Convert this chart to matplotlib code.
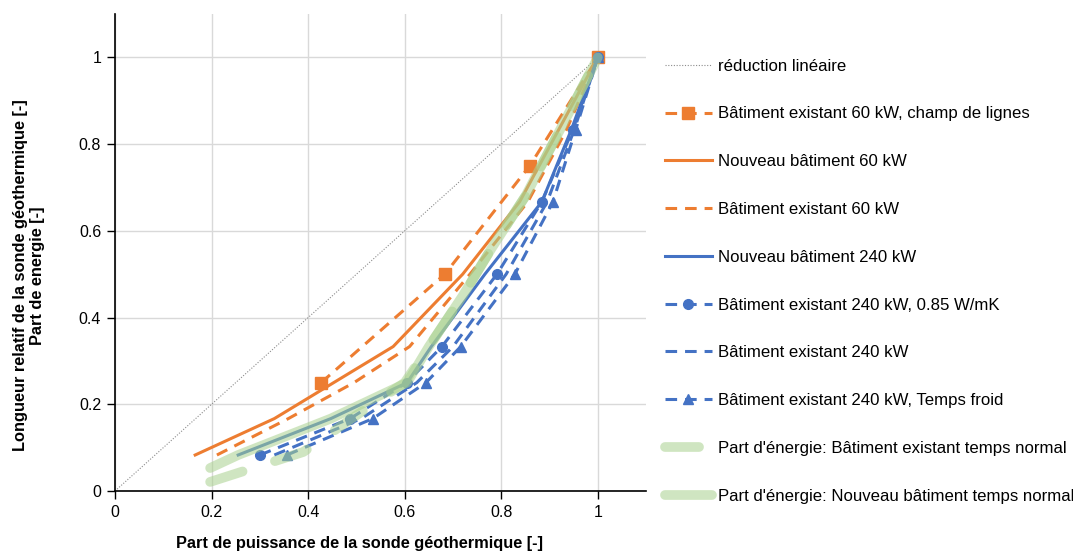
import numpy as np
import matplotlib
matplotlib.use("Agg")
import matplotlib.pyplot as plt

plt.rcParams['font.family'] = ['Liberation Sans', 'DejaVu Sans']

# reduction lineaire
lin_x = [0, 1]
lin_y = [0, 1]

# Batiment existant 60 kW, champ de lignes
champ_x = [0.427, 0.683, 0.859, 1.0]
champ_y = [0.25, 0.5, 0.75, 1.0]

# Nouveau batiment 60 kW
nb60_x = [0.166, 0.33, 0.576, 0.72, 0.838, 1.0]
nb60_y = [0.083, 0.167, 0.333, 0.5, 0.667, 1.0]

# Batiment existant 60 kW
be60_x = [0.211, 0.359, 0.495, 0.61, 0.735, 0.855, 0.935, 1.0]
be60_y = [0.083, 0.167, 0.25, 0.333, 0.5, 0.667, 0.833, 1.0]

# Nouveau batiment 240 kW
nb240_x = [0.255, 0.447, 0.605, 0.655, 0.766, 0.884, 0.945, 1.0]
nb240_y = [0.083, 0.167, 0.25, 0.333, 0.5, 0.667, 0.833, 1.0]

# Batiment existant 240 kW, 0.85 W/mK
be240k_x = [0.30, 0.487, 0.604, 0.677, 0.791, 0.884, 0.948, 1.0]
be240k_y = [0.083, 0.167, 0.25, 0.333, 0.5, 0.667, 0.833, 1.0]

# Batiment existant 240 kW
be240_x = [0.33, 0.51, 0.625, 0.70, 0.81, 0.895, 0.951, 1.0]
be240_y = [0.083, 0.167, 0.25, 0.333, 0.5, 0.667, 0.833, 1.0]

# Batiment existant 240 kW, Temps froid
froid_x = [0.356, 0.534, 0.644, 0.716, 0.828, 0.907, 0.954, 1.0]
froid_y = [0.083, 0.167, 0.25, 0.333, 0.5, 0.667, 0.833, 1.0]

# Part d'energie: Batiment existant temps normal
pe_ex_x = [0.197, 0.39, 0.49, 0.60, 0.65, 0.72, 0.78, 0.85, 1.0]
pe_ex_y = [0.021, 0.09, 0.167, 0.25, 0.333, 0.45, 0.56, 0.68, 1.0]

# Part d'energie: Nouveau batiment temps normal
pe_nb_x = [0.197, 0.255, 0.447, 0.605, 0.65, 0.72, 0.78, 0.85, 1.0]
pe_nb_y = [0.053, 0.083, 0.167, 0.25, 0.333, 0.45, 0.56, 0.68, 1.0]

orange = "#ED7D31"
blue = "#4472C4"
green = "#A9D18E"
dash = (0, (3.8, 2.6))

fig = plt.figure(figsize=(10.73, 5.51), dpi=100)
ax = fig.add_axes([0.1072, 0.1089, 0.4950, 0.8657])

ax.plot(lin_x, lin_y, color="#8c8c8c", lw=0.8, ls=(0, (1, 1.5)), label="réduction linéaire")
ax.plot(champ_x, champ_y, color=orange, lw=2.2, ls=dash, marker="s", ms=8,
        label="Bâtiment existant 60 kW, champ de lignes")
ax.plot(nb60_x, nb60_y, color=orange, lw=2.2, label="Nouveau bâtiment 60 kW")
ax.plot(be60_x, be60_y, color=orange, lw=2.2, ls=dash, label="Bâtiment existant 60 kW")
ax.plot(nb240_x, nb240_y, color=blue, lw=2.2, label="Nouveau bâtiment 240 kW")
ax.plot(be240k_x, be240k_y, color=blue, lw=2.2, ls=dash, marker="o", ms=7,
        label="Bâtiment existant 240 kW, 0.85 W/mK")
ax.plot(be240_x, be240_y, color=blue, lw=2.2, ls=dash, label="Bâtiment existant 240 kW")
ax.plot(froid_x, froid_y, color=blue, lw=2.2, ls=dash, marker="^", ms=7.5,
        label="Bâtiment existant 240 kW, Temps froid")
ax.plot(pe_ex_x, pe_ex_y, color=green, lw=7, alpha=0.55, ls=(0, (3.5, 3.5)),
        solid_capstyle="round", dash_capstyle="round",
        label="Part d'énergie: Bâtiment existant temps normal")
ax.plot(pe_nb_x, pe_nb_y, color=green, lw=7, alpha=0.55, solid_capstyle="round",
        label="Part d'énergie: Nouveau bâtiment temps normal")

ax.set_xlim(0, 1.1)
ax.set_ylim(0, 1.1)
ticks = [0, 0.2, 0.4, 0.6, 0.8, 1.0]
ticklabels = ["0", "0.2", "0.4", "0.6", "0.8", "1"]
ax.set_xticks(ticks)
ax.set_xticklabels(ticklabels)
ax.set_yticks(ticks)
ax.set_yticklabels(ticklabels)
ax.tick_params(direction="out", length=6, width=1, labelsize=11.5, pad=4)
ax.grid(True, color="#d9d9d9", lw=1)
ax.set_axisbelow(True)
for s in ["top", "right"]:
    ax.spines[s].set_visible(False)
for s in ["left", "bottom"]:
    ax.spines[s].set_linewidth(1.2)

fig.text(360 / 1073, 0.014, "Part de puissance de la sonde géothermique [-]",
         ha="center", va="center", fontsize=11.8, fontweight="bold")
fig.text(29 / 1073, 0.5, "Longueur relatif de la sonde géothermique [-]\nPart de energie [-]",
         ha="center", va="center", rotation=90, fontsize=11.8, fontweight="bold",
         linespacing=1.15)

fig.legend(loc="upper left", bbox_to_anchor=(658 / 1073, 1 - 52 / 551), frameon=False,
           fontsize=12.1, labelspacing=1.95, handlelength=2.8, handletextpad=0.4,
           borderaxespad=0)

fig.savefig("out.png", dpi=100)
